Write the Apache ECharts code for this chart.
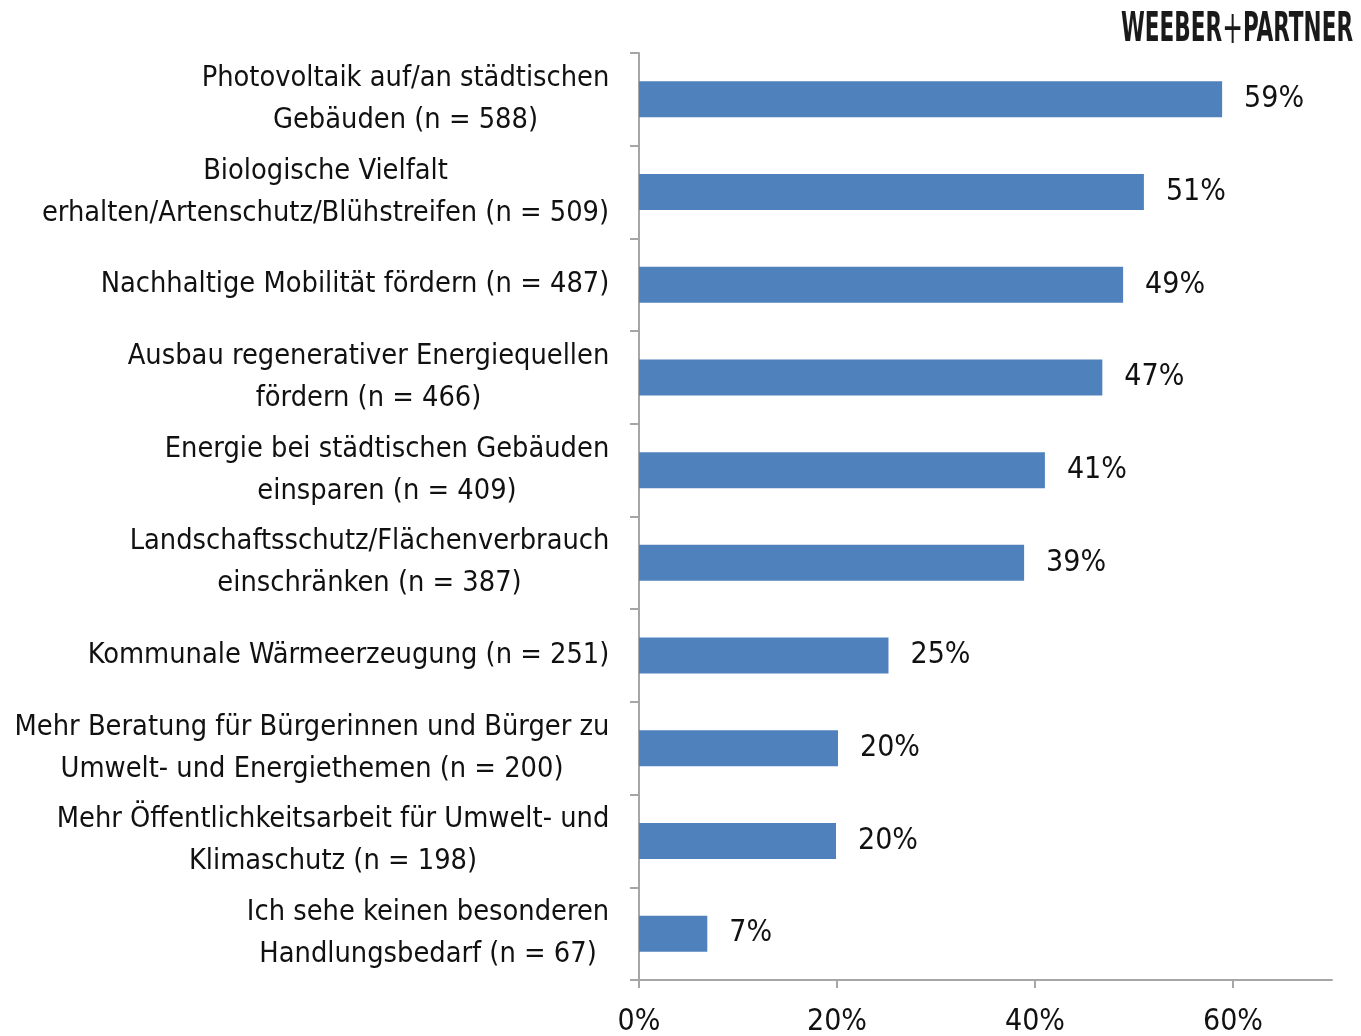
<!DOCTYPE html>
<html>
<head>
<meta charset="utf-8">
<script src="https://cdn.jsdelivr.net/npm/echarts@6/dist/echarts.min.js"></script>
<style>
  html, body { margin: 0; padding: 0; background: #fff; }
  #main { width: 1361px; height: 1036px; }
</style>
</head>
<body>
<div id="main"></div>
<script>
// Kategorien (von oben nach unten)
var categories = [
    'Photovoltaik auf/an städtischen\nGebäuden (n = 588)',
    'Biologische Vielfalt\nerhalten/Artenschutz/Blühstreifen (n = 509)',
    'Nachhaltige Mobilität fördern (n = 487)',
    'Ausbau regenerativer Energiequellen\nfördern (n = 466)',
    'Energie bei städtischen Gebäuden\neinsparen (n = 409)',
    'Landschaftsschutz/Flächenverbrauch\neinschränken (n = 387)',
    'Kommunale Wärmeerzeugung (n = 251)',
    'Mehr Beratung für Bürgerinnen und Bürger zu\nUmwelt- und Energiethemen (n = 200)',
    'Mehr Öffentlichkeitsarbeit für Umwelt- und\nKlimaschutz (n = 198)',
    'Ich sehe keinen besonderen\nHandlungsbedarf (n = 67)'
];
// Anteile in Prozent
var values = [58.9, 51.0, 48.9, 46.8, 41.0, 38.9, 25.2, 20.1, 19.9, 6.9];
// Achsenbeschriftung
var xTicks = [0, 20, 40, 60];

var FONT = '"DejaVu Sans Condensed", "Liberation Sans Narrow", sans-serif';
var FS = 28.7;
var AXIS = '#a6a6a6';

// Breite jeder Beschriftung messen: Zeilen zentriert, Block rechtsbündig
var ctx = document.createElement('canvas').getContext('2d');
ctx.font = FS + 'px ' + FONT;
var rich = {};
categories.forEach(function (c, i) {
    var w = Math.max.apply(null, c.split('\n').map(function (l) { return ctx.measureText(l).width; }));
    rich['c' + i] = {
        width: Math.ceil(w) + 1,
        align: 'center',
        fontSize: FS,
        fontFamily: FONT,
        color: '#111',
        lineHeight: 42
    };
});

var myChart = echarts.init(document.getElementById('main'));
var option = {
    backgroundColor: '#fff',
    animation: false,
    grid: { left: 639, right: 29, top: 53, bottom: 56, containLabel: false, outerBoundsMode: 'none' },
    xAxis: {
        type: 'value',
        min: 0,
        max: 70,
        interval: 20,
        axisLine: { show: true, lineStyle: { color: AXIS, width: 2 } },
        axisTick: { show: true, length: 8, lineStyle: { color: AXIS, width: 2 }, customValues: xTicks },
        splitLine: { show: false },
        axisLabel: {
            customValues: xTicks,
            formatter: '{value}%',
            margin: 27,
            fontSize: 30,
            fontFamily: FONT,
            color: '#111'
        }
    },
    yAxis: {
        type: 'category',
        inverse: true,
        data: categories,
        axisLine: { show: true, lineStyle: { color: AXIS, width: 2 } },
        axisTick: { show: true, length: 9, lineStyle: { color: AXIS, width: 2 } },
        axisLabel: {
            margin: 29,
            align: 'right',
            formatter: function (value, idx) {
                return value.split('\n').map(function (l) { return '{c' + idx + '|' + l + '}'; }).join('\n');
            },
            rich: rich
        }
    },
    series: [{
        type: 'bar',
        data: values,
        barWidth: 36,
        itemStyle: { color: '#4f81bd' },
        label: {
            show: true,
            position: 'right',
            distance: 22,
            formatter: function (p) { return Math.round(p.value) + '%'; },
            fontSize: 30,
            fontFamily: FONT,
            color: '#111'
        }
    }],
    graphic: [{
        type: 'text',
        x: 1121,
        y: 8,
        scaleX: 0.6,
        style: {
            text: '{b|WEEBER}{p|+}{b|PARTNER}',
            rich: {
                b: { fontSize: 40, fontWeight: 'bold', fontFamily: FONT, fill: '#1a1a1a' },
                p: { fontSize: 46, fontWeight: 'normal', fontFamily: FONT, fill: '#1a1a1a' }
            }
        }
    }]
};
myChart.setOption(option, true);
</script>
</body>
</html>
